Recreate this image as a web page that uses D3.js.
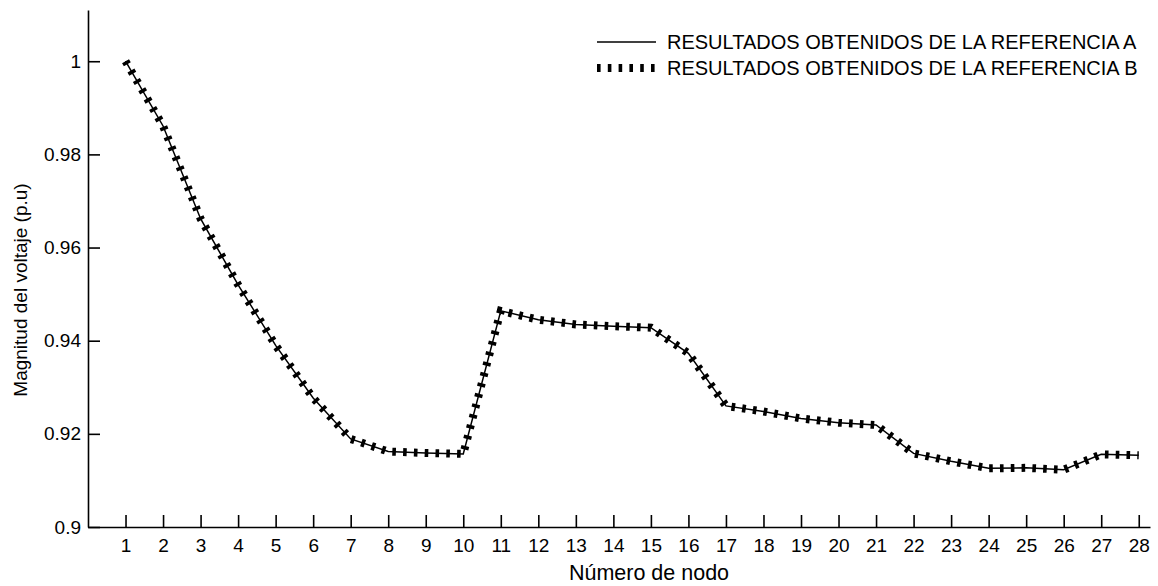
<!DOCTYPE html>
<html>
<head>
<meta charset="utf-8">
<script src="https://cdn.jsdelivr.net/npm/d3@7"></script>
<style>
    body { margin: 0; background: #fff; }
    svg text { font-family: "Liberation Sans", Arial, sans-serif; fill: #000; }
</style>
</head>
<body>
<svg id="chart"></svg>
<script>
// node numbers and voltage magnitudes (p.u)
const nodes = d3.range(1, 29);
const voltageA = [1.0, 0.9861, 0.9662, 0.9520, 0.9390, 0.9277, 0.9189, 0.9162, 0.9159, 0.9157,
    0.9464, 0.9445, 0.9435, 0.9431, 0.9428, 0.9373, 0.9260, 0.9248, 0.9233, 0.9224,
    0.9219, 0.9158, 0.9141, 0.9126, 0.9127, 0.9123, 0.9156, 0.9154];
const voltageB = [1.0, 0.9861, 0.9662, 0.9520, 0.9390, 0.9277, 0.9189, 0.9162, 0.9159, 0.9157,
    0.9464, 0.9445, 0.9435, 0.9431, 0.9428, 0.9373, 0.9260, 0.9248, 0.9233, 0.9224,
    0.9219, 0.9158, 0.9141, 0.9126, 0.9127, 0.9123, 0.9156, 0.9154];
const yTicks = [0.9, 0.92, 0.94, 0.96, 0.98, 1];
const seriesNames = ["RESULTADOS OBTENIDOS DE LA REFERENCIA A", "RESULTADOS OBTENIDOS DE LA REFERENCIA B"];

const width = 1158;
const height = 586;
const dots = "3.6 7.2";

const svg = d3.select("#chart").attr("width", width).attr("height", height);

const x = d3.scaleLinear().domain([0, 28.3]).range([88, 1150]);
const y = d3.scaleLinear().domain([0.9, 1.011]).range([527, 10]);

// axes: ticks point into the plot
const xAxis = d3.axisBottom(x).tickValues(nodes).tickFormat(d3.format("d"))
    .tickSizeInner(-12).tickSizeOuter(0).tickPadding(12);
const yAxis = d3.axisLeft(y).tickValues(yTicks).tickFormat(d => d === 1 ? "1" : d3.format(".2f")(d).replace(/0$/, ""))
    .tickSizeInner(-12).tickSizeOuter(0).tickPadding(7);

const gx = svg.append("g").attr("transform", `translate(0,${y(0.9)})`).call(xAxis);
const gy = svg.append("g").attr("transform", `translate(${x(0)},0)`).call(yAxis);

[gx, gy].forEach(g => {
    g.selectAll("path, line").attr("stroke", "#000").attr("stroke-width", 1.6);
    g.selectAll("text").style("font-size", "19px");
});

const line = d3.line().x((d, i) => x(nodes[i])).y(d => y(d));

// reference B: thick dotted line
svg.append("path")
    .datum(voltageB)
    .attr("d", line)
    .attr("fill", "none")
    .attr("stroke", "#000")
    .attr("stroke-width", 8)
    .attr("stroke-dasharray", dots);

// reference A: thin solid line
svg.append("path")
    .datum(voltageA)
    .attr("d", line)
    .attr("fill", "none")
    .attr("stroke", "#000")
    .attr("stroke-width", 1.5);

// axis titles
svg.append("text")
    .attr("x", 649).attr("y", 580)
    .attr("text-anchor", "middle")
    .style("font-size", "21.5px")
    .text("Número de nodo");

svg.append("text")
    .attr("transform", "translate(27,290) rotate(-90)")
    .attr("text-anchor", "middle")
    .style("font-size", "19px")
    .text("Magnitud del voltaje (p.u)");

// legend
const legend = svg.append("g");
seriesNames.forEach((name, i) => {
    const ly = 42 + i * 26;
    legend.append("line")
        .attr("x1", 597).attr("x2", 656).attr("y1", ly).attr("y2", ly)
        .attr("stroke", "#000")
        .attr("stroke-width", i === 0 ? 1.5 : 8)
        .attr("stroke-dasharray", i === 0 ? null : dots);
    legend.append("text")
        .attr("x", 667).attr("y", ly + 7)
        .style("font-size", "20px")
        .text(name);
});
</script>
</body>
</html>
